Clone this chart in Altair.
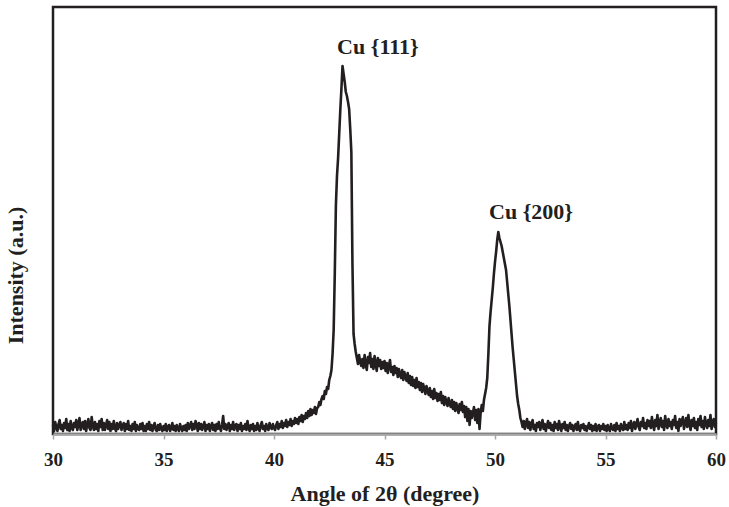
import altair as alt
import pandas as pd

# 2θ sampled from 30.00 to 60.00 in steps of 0.05 degree
two_theta = [round(30 + i * 0.05, 2) for i in range(601)]

intensity = [
    9, 3, 12, 7, 3, 10, 14, 5, 9, 3, 11, 6, 15, 4, 10, 3, 13, 6, 4, 11,            # 30
    7, 14, 4, 10, 16, 4, 9, 12, 5, 13, 3, 10, 15, 6, 4, 17, 8, 4, 12, 5,           # 31
    10, 3, 13, 7, 15, 4, 11, 4, 9, 14, 5, 12, 3, 10, 5, 13, 6, 3, 11, 5,           # 32
    9, 12, 4, 8, 11, 3, 10, 5, 13, 4, 8, 3, 10, 5, 12, 3, 9, 5, 4, 10,             # 33
    5, 11, 3, 8, 3, 10, 5, 12, 4, 9, 3, 8, 11, 4, 3, 9, 4, 10, 5, 3,               # 34
    8, 4, 10, 3, 7, 9, 3, 6, 11, 4, 8, 3, 9, 5, 3, 10, 6, 3, 8, 4,                 # 35
    9, 3, 11, 5, 8, 12, 4, 10, 5, 13, 9, 3, 11, 5, 10, 4, 8, 12, 3, 9,             # 36
    5, 10, 3, 8, 11, 4, 9, 3, 10, 5, 12, 6, 3, 9, 18, 5, 10, 4, 8, 11,             # 37
    3, 9, 5, 12, 4, 8, 10, 3, 9, 5, 11, 3, 8, 5, 10, 4, 13, 6, 3, 9,               # 38
    5, 10, 3, 8, 4, 11, 6, 3, 9, 12, 5, 8, 3, 10, 6, 4, 11, 7, 5, 10,              # 39
    6, 4, 9, 12, 5, 10, 7, 13, 6, 11, 8, 14, 7, 12, 9, 15, 8, 13, 10, 16,          # 40
    11, 15, 10, 17, 13, 19, 12, 18, 15, 21, 16, 23, 18, 25, 19, 24, 21, 27, 20, 26,  # 41
    27, 32, 29, 35, 38, 35, 43, 40, 47, 45, 54, 58, 64, 80, 104, 160, 228, 258, 276, 300,  # 42
    324, 345, 368, 360, 352, 342, 338, 332, 325, 305, 282, 170, 100, 90, 82, 76, 70, 79, 72, 68,  # 43
    75, 66, 79, 69, 64, 77, 71, 81, 67, 75, 65, 78, 70, 63, 76, 68, 74, 65, 72, 66,  # 44
    73, 63, 71, 61, 69, 74, 62, 67, 59, 68, 61, 66, 57, 65, 59, 56, 64, 54, 62, 57,  # 45
    53, 61, 51, 58, 49, 57, 48, 54, 46, 56, 47, 52, 44, 51, 42, 50, 45, 40, 48, 43,  # 46
    39, 46, 37, 43, 35, 45, 36, 41, 33, 40, 34, 42, 31, 38, 29, 37, 32, 28, 36, 30,  # 47
    27, 34, 25, 32, 23, 31, 26, 21, 30, 24, 32, 22, 28, 17, 27, 13, 25, 9, 23, 16,  # 48
    21, 27, 14, 24, 11, 25, 5, 21, 29, 23, 34, 40, 46, 56, 80, 108, 122, 134, 146, 160,  # 49
    172, 182, 194, 202, 196, 192, 188, 182, 176, 170, 164, 152, 140, 128, 114, 100, 86, 74, 62, 50,  # 50
    38, 30, 24, 16, 12, 7, 13, 5, 11, 15, 6, 12, 4, 10, 14, 5, 9, 3, 11, 7,        # 51
    12, 4, 9, 14, 5, 10, 3, 8, 13, 6, 11, 4, 9, 3, 12, 6, 10, 4, 13, 7,            # 52
    3, 10, 6, 12, 4, 9, 3, 8, 11, 5, 9, 3, 7, 10, 4, 12, 5, 3, 9, 6,               # 53
    10, 4, 8, 3, 7, 11, 5, 9, 3, 8, 4, 10, 3, 7, 9, 3, 8, 5, 10, 4,                # 54
    8, 3, 9, 5, 3, 10, 6, 4, 9, 3, 11, 5, 8, 3, 10, 6, 4, 12, 5, 9,                # 55
    4, 11, 6, 13, 3, 9, 12, 5, 10, 15, 7, 4, 12, 8, 16, 6, 11, 5, 14, 8,           # 56
    13, 6, 17, 9, 4, 14, 8, 19, 5, 12, 16, 7, 13, 4, 18, 9, 6, 15, 8, 12,          # 57
    5, 14, 9, 18, 6, 12, 3, 15, 8, 13, 17, 5, 11, 16, 7, 19, 9, 4, 14, 8,          # 58
    16, 6, 12, 4, 15, 9, 18, 7, 13, 5, 17, 10, 6, 14, 8, 19, 5, 12, 15, 7,         # 59
    11,                                                                             # 60
]

peak_labels = ["Cu {111}", "Cu {200}"]
peak_label_x = [44.7, 51.63]
peak_label_y = [387, 222]

x_ticks = [30, 35, 40, 45, 50, 55, 60]

FONT = "Liberation Serif"
INK = "#231f20"

df = pd.DataFrame({"two_theta": two_theta, "intensity": intensity})
labels_df = pd.DataFrame({"label": peak_labels, "x": peak_label_x, "y": peak_label_y})

x_scale = alt.Scale(domain=[30, 60], nice=False, zero=False)
y_scale = alt.Scale(domain=[0, 427], nice=False)

line = alt.Chart(df).mark_line(color=INK, strokeWidth=2.6, strokeJoin="round").encode(
    x=alt.X(
        "two_theta:Q",
        scale=x_scale,
        axis=alt.Axis(
            title="Angle of 2θ (degree)",
            values=x_ticks,
            grid=False,
            domainColor="#a6a6a6",
            domainWidth=2.5,
            tickColor="#a6a6a6",
            tickWidth=1.5,
            tickSize=5,
            labelPadding=11,
            labelFlush=False,
            labelFont=FONT,
            labelFontSize=19,
            labelFontWeight="bold",
            labelColor=INK,
            titleFont=FONT,
            titleFontSize=22,
            titleFontWeight="bold",
            titleColor=INK,
            titleY=66,
            titleBaseline="alphabetic",
        ),
    ),
    y=alt.Y(
        "intensity:Q",
        scale=y_scale,
        axis=alt.Axis(
            title="Intensity (a.u.)",
            labels=False,
            ticks=False,
            domain=False,
            grid=False,
            titleFont=FONT,
            titleFontSize=22,
            titleFontWeight="bold",
            titleColor=INK,
            titleAngle=-90,
            titleX=-38,
            titleY=268,
            titleAlign="center",
            titleBaseline="middle",
        ),
    ),
)

text = alt.Chart(labels_df).mark_text(
    font=FONT, fontSize=22, fontWeight="bold", color=INK, baseline="middle", align="center"
).encode(
    x=alt.X("x:Q", scale=x_scale),
    y=alt.Y("y:Q", scale=y_scale),
    text="label:N",
)

chart = (
    alt.layer(line, text)
    .properties(
        width=663,
        height=427,
        autosize=alt.AutoSizeParams(type="none"),
        padding={"left": 53, "top": 7, "right": 13, "bottom": 73},
        background="white",
    )
    .configure_view(stroke=INK, strokeWidth=2.5)
)

chart.save("out.html", embed_options={"renderer": "svg", "actions": False})
